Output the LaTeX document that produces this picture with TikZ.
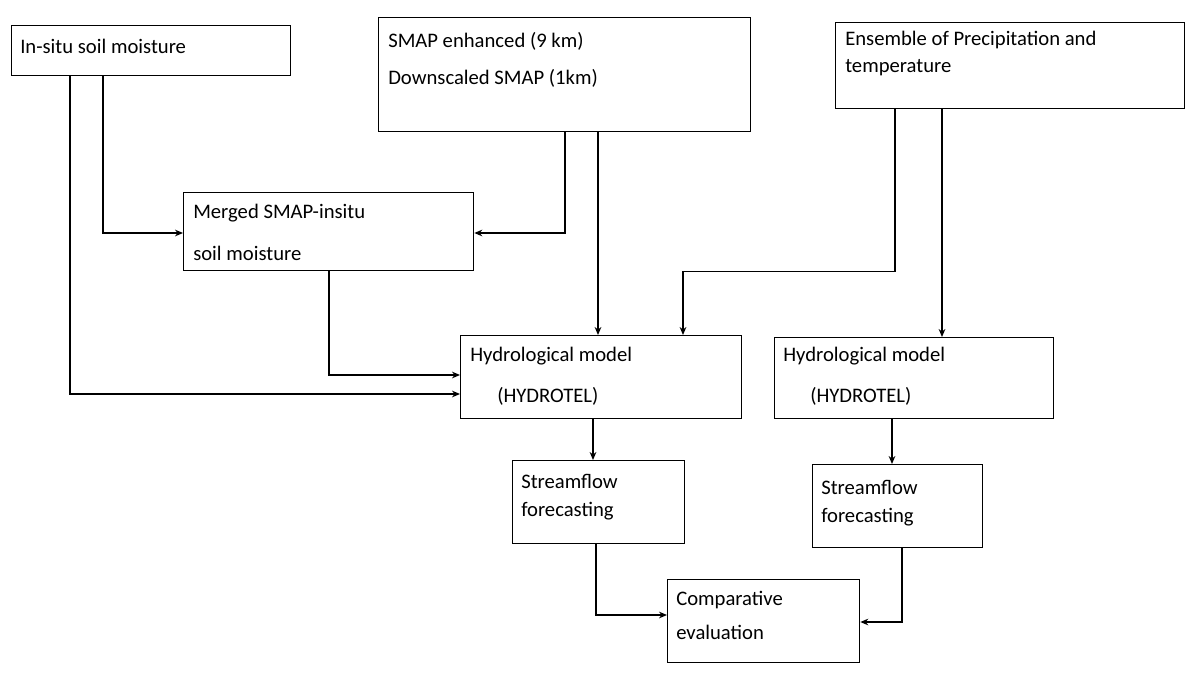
\documentclass[tikz,border=0pt]{standalone}
\usepackage{fontspec}
\setmainfont{Carlito}
\usetikzlibrary{calc,arrows.meta}
\begin{document}
\begin{tikzpicture}[x=0.75pt,y=-0.75pt,
  box/.style={draw,line width=1pt,anchor=north west,inner sep=0pt},
  lbl/.style={anchor=west,inner sep=0pt,font=\fontsize{15.5}{18}\selectfont},
  arr/.style={draw,line width=0.9pt,-{Stealth[length=6pt,width=5pt]}}]
\useasboundingbox (0,0) rectangle (1200,676);
\node[box,minimum width=279*0.75pt,minimum height=50*0.75pt] (ins) at (11,25) {};
\node[box,minimum width=372*0.75pt,minimum height=114*0.75pt] (smap) at (378,17) {};
\node[box,minimum width=349*0.75pt,minimum height=86*0.75pt] (ens) at (835,22) {};
\node[box,minimum width=290*0.75pt,minimum height=78*0.75pt] (mer) at (183,192) {};
\node[box,minimum width=281*0.75pt,minimum height=83*0.75pt] (h1) at (460,335) {};
\node[box,minimum width=279*0.75pt,minimum height=81*0.75pt] (h2) at (774,337) {};
\node[box,minimum width=172*0.75pt,minimum height=83*0.75pt] (s1) at (512,460) {};
\node[box,minimum width=170*0.75pt,minimum height=83*0.75pt] (s2) at (812,464) {};
\node[box,minimum width=192*0.75pt,minimum height=83*0.75pt] (cmp) at (667,579) {};
\node[lbl] (t1) at (20,46) {In-situ soil moisture};
\node[lbl] (t2) at (388,41) {SMAP enhanced (9 km)};
\node[lbl] (t3) at (388,78) {Downscaled SMAP (1km)};
\node[lbl] (t4) at (845,40) {Ensemble of Precipitation and};
\node[lbl] (t5) at (845,68) {temperature};
\node[lbl] (t6) at (193,213) {Merged SMAP-insitu};
\node[lbl] (t7) at (193,253) {soil moisture};
\node[lbl] (t8) at (470,356) {Hydrological model};
\node[lbl] (t9) at (497,396) {(HYDROTEL)};
\node[lbl] (t10) at (783,356) {Hydrological model};
\node[lbl] (t11) at (810,396) {(HYDROTEL)};
\node[lbl] (t12) at (521,481) {Streamflow};
\node[lbl] (t13) at (521,511) {forecasting};
\node[lbl] (t14) at (821,487) {Streamflow};
\node[lbl] (t15) at (821,517) {forecasting};
\node[lbl] (t16) at (676,600) {Comparative};
\node[lbl] (t17) at (676,632) {evaluation};
\draw[arr] ($(ins.south west)+(59,0)$) |- ($(h1.north west)+(0,59)$);
\draw[arr] ($(ins.south west)+(92,0)$) |- ($(mer.north west)+(0,41)$);
\draw[arr] ($(smap.south west)+(187,0)$) |- ($(mer.north east)+(0,41)$);
\draw[arr] ($(smap.south west)+(220,0)$) -- ($(h1.north west)+(138,0)$);
\draw[arr] ($(mer.south west)+(146,0)$) |- ($(h1.north west)+(0,40)$);
\draw[arr] ($(ens.south west)+(60,0)$) -- ++(0,162) -| ($(h1.north west)+(223,0)$);
\draw[arr] ($(ens.south west)+(107,0)$) -- ($(h2.north west)+(168,0)$);
\draw[arr] ($(h1.south west)+(133,0)$) -- ($(s1.north west)+(81,0)$);
\draw[arr] ($(h2.south west)+(118,0)$) -- ($(s2.north west)+(80,0)$);
\draw[arr] ($(s1.south west)+(84,0)$) |- ($(cmp.north west)+(0,36)$);
\draw[arr] ($(s2.south west)+(90,0)$) |- ($(cmp.north east)+(0,43)$);
\end{tikzpicture}
\end{document}
